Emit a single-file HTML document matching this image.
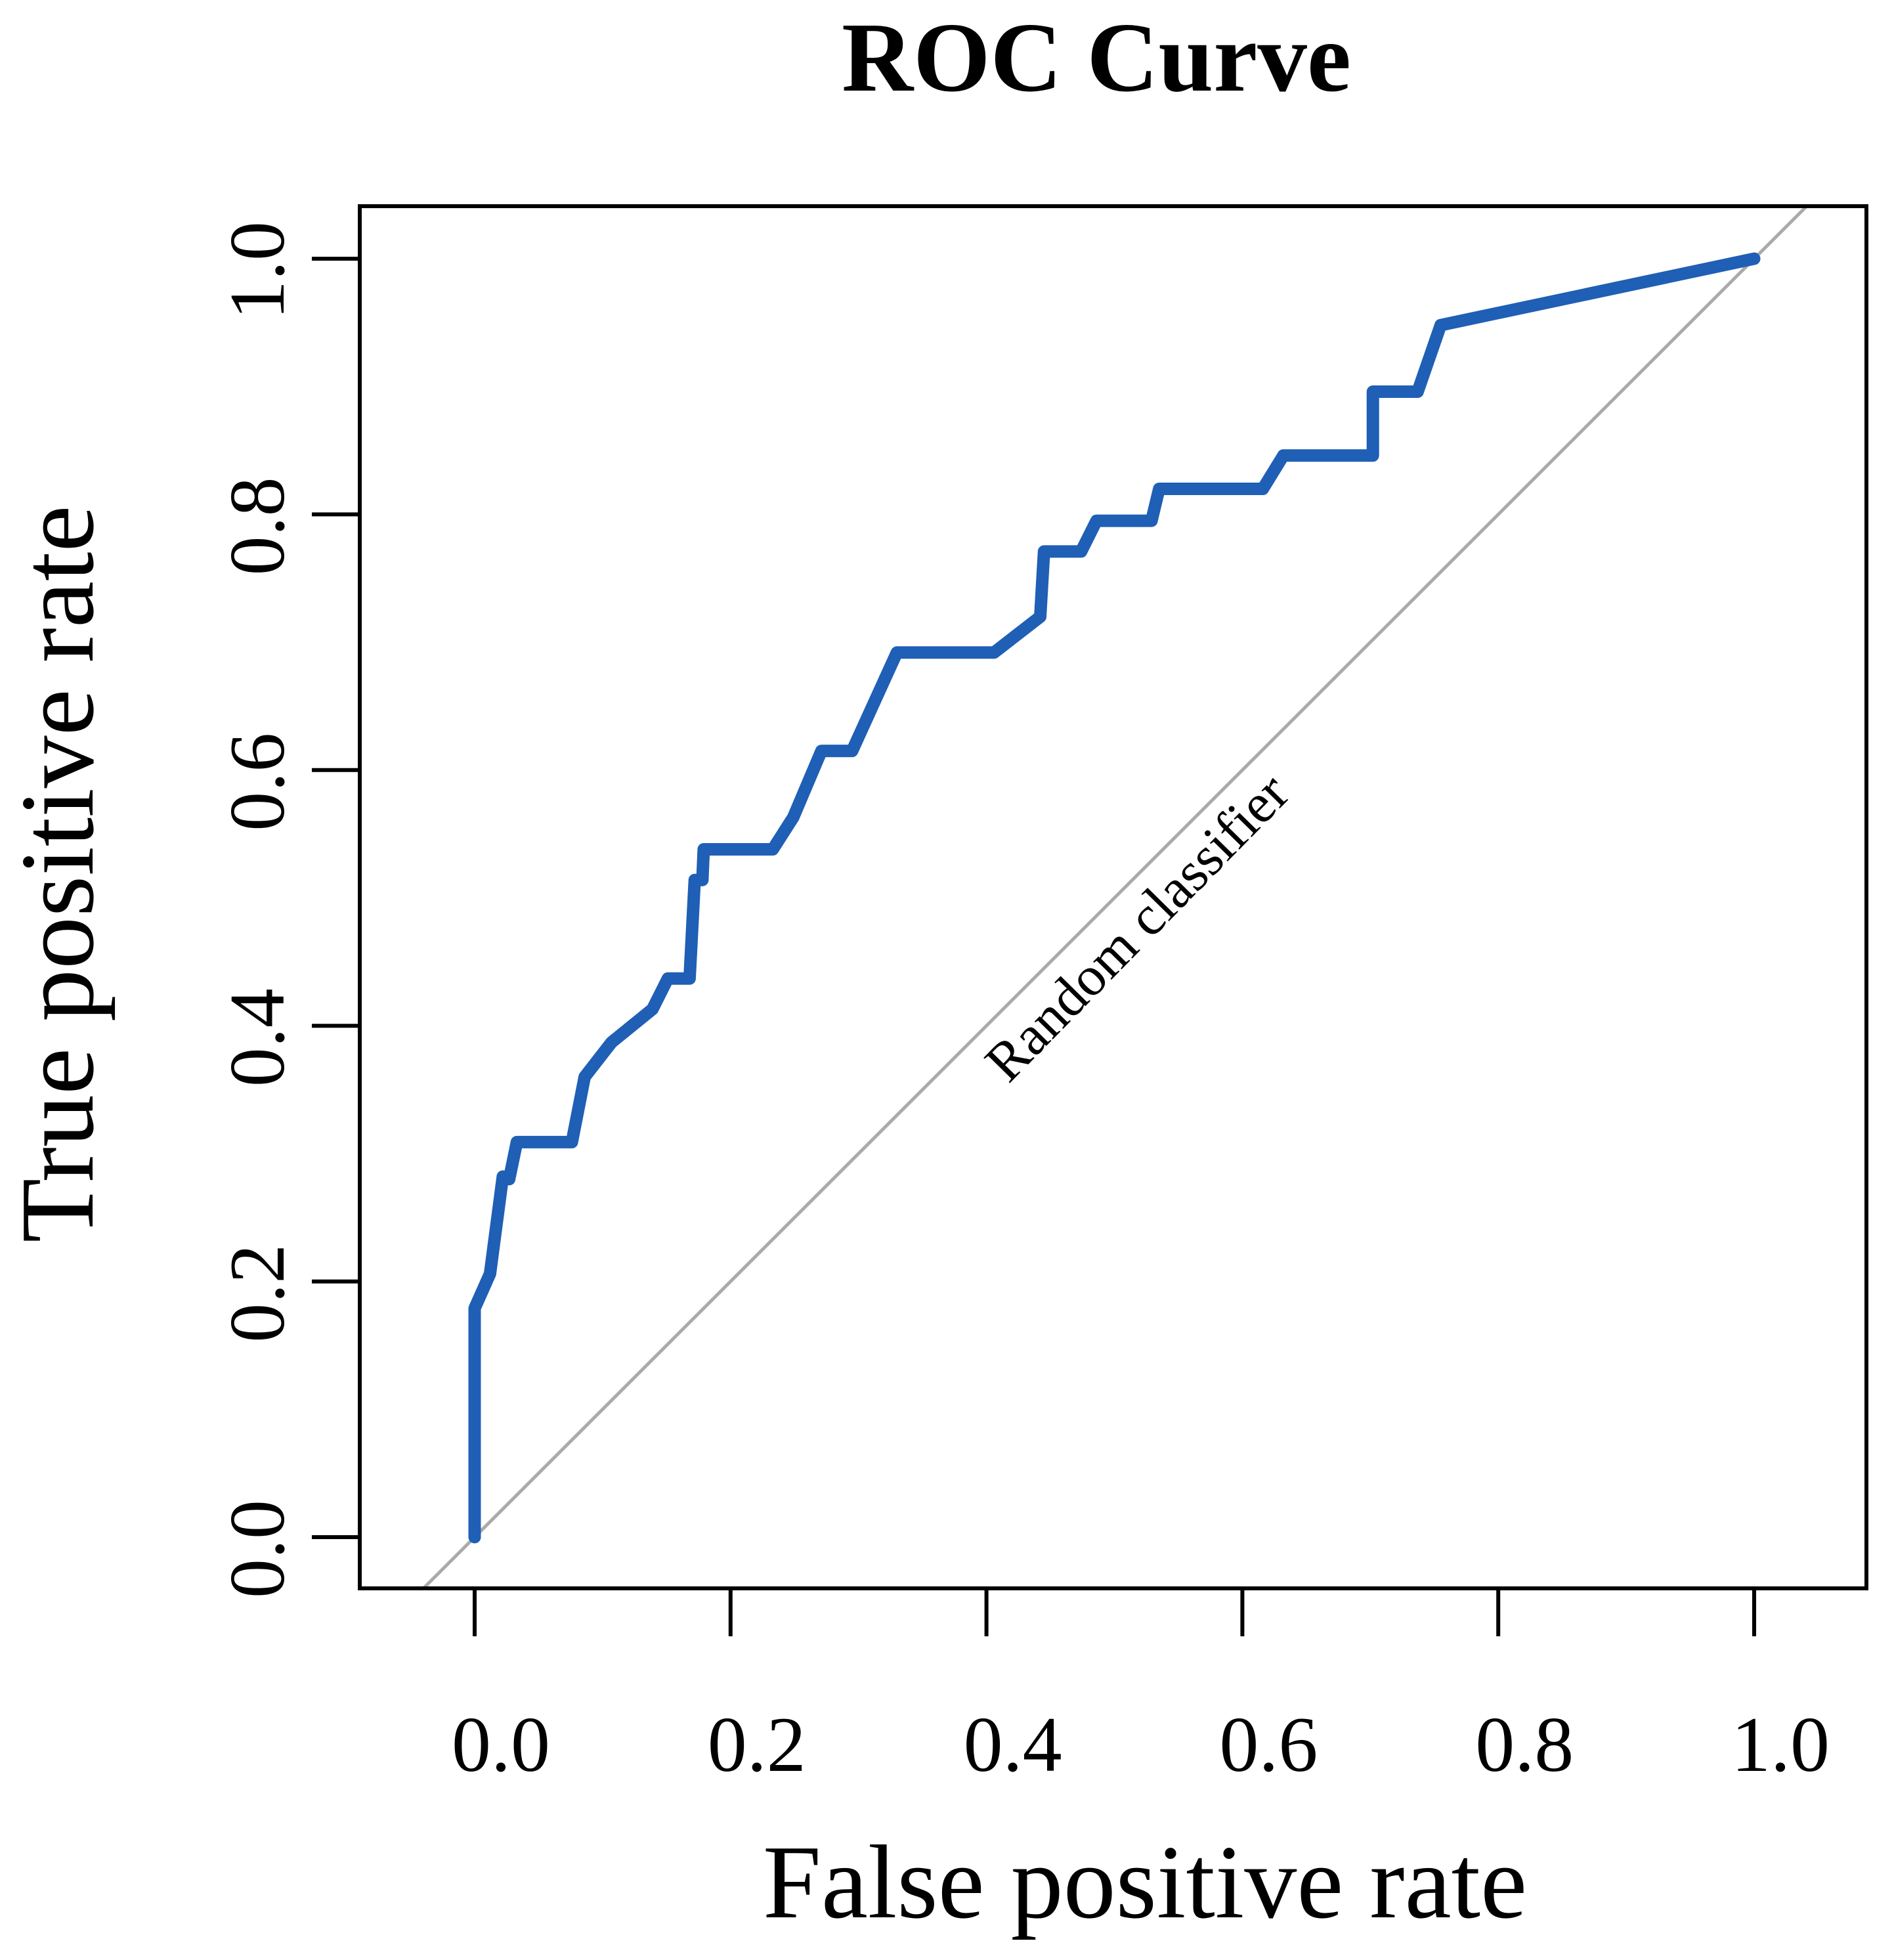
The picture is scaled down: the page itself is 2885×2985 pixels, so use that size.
<!DOCTYPE html>
<html><head><meta charset="utf-8"><style>
html,body{margin:0;padding:0;background:#fff;}
svg{display:block;font-family:"Liberation Serif",serif;}
</style></head><body>
<svg id="chart" width="2885" height="2985" viewBox="0 0 2885 2985" xmlns="http://www.w3.org/2000/svg">
<defs><clipPath id="plotclip"><rect x="548" y="314" width="2295" height="2105"/></clipPath></defs>
<text x="1670" y="138" text-anchor="middle" font-size="151" font-weight="bold">ROC Curve</text>
<g id="axes"></g>
<g id="marks" clip-path="url(#plotclip)"></g>
<rect x="548" y="314" width="2295" height="2105" fill="none" stroke="#000" stroke-width="6"/>
<text x="1744" y="2920" text-anchor="middle" font-size="160">False positive rate</text>
<text transform="translate(141,1331) rotate(-90)" text-anchor="middle" font-size="160">True positive rate</text>
</svg>
<script>
const fpr = [0,0,0.012,0.022,0.027,0.033,0.076,0.086,0.107,0.139,0.151,0.168,0.172,0.178,0.179,0.233,0.249,0.271,0.295,0.330,0.406,0.442,0.445,0.474,0.486,0.529,0.535,0.616,0.632,0.702,0.702,0.737,0.755,1];
const tpr = [0,0.179,0.206,0.282,0.28,0.309,0.309,0.36,0.387,0.413,0.437,0.437,0.514,0.514,0.538,0.538,0.563,0.615,0.615,0.692,0.692,0.72,0.771,0.771,0.795,0.795,0.82,0.82,0.846,0.846,0.896,0.896,0.948,1];
const xTicks = [0,0.2,0.4,0.6,0.8,1.0];
const yTicks = [0,0.2,0.4,0.6,0.8,1.0];
const xTickLabels = ["0.0","0.2","0.4","0.6","0.8","1.0"];
const yTickLabels = ["0.0","0.2","0.4","0.6","0.8","1.0"];

const NS="http://www.w3.org/2000/svg";
const X0=723,X1=2672,Y0=2341,Y1=394;
function sx(v){return X0+(X1-X0)*v;}
function sy(v){return Y0+(Y1-Y0)*v;}
function mk(tag,attrs,parent){const e=document.createElementNS(NS,tag);for(const k in attrs)e.setAttribute(k,attrs[k]);parent.appendChild(e);return e;}
const axes=document.getElementById('axes'), marks=document.getElementById('marks');

xTicks.forEach((t,i)=>{
  const l=mk('line',{x1:sx(t),x2:sx(t),y1:2419,y2:2492,stroke:'#000','stroke-width':6},axes);
  
  
  const tx=mk('text',{x:sx(t)+40,y:2697,'text-anchor':'middle','font-size':120},axes);
  tx.textContent=xTickLabels[i];
  
  
});
yTicks.forEach((t,i)=>{
  const l=mk('line',{x1:475,x2:548,y1:sy(t),y2:sy(t),stroke:'#000','stroke-width':6},axes);
  
  
  const tx=mk('text',{transform:`translate(432,${sy(t)+18}) rotate(-90)`,'text-anchor':'middle','font-size':120},axes);
  tx.textContent=yTickLabels[i];
  
  
});

const diag=mk('line',{x1:sx(-0.2),y1:sy(-0.2),x2:sx(1.2),y2:sy(1.2),stroke:'#aaa','stroke-width':5},marks);



const lbl=mk('text',{transform:`translate(1752,1432) rotate(-45.5)`,'text-anchor':'middle','font-size':85},marks);
lbl.textContent='Random classifier';



const pts=fpr.map((f,i)=>sx(f).toFixed(1)+','+sy(tpr[i]).toFixed(1)).join(' ');
const curve=mk('polyline',{points:pts,fill:'none',stroke:'#1f5fb5','stroke-width':19,'stroke-linejoin':'round','stroke-linecap':'round'},marks);


</script>
</body></html>
